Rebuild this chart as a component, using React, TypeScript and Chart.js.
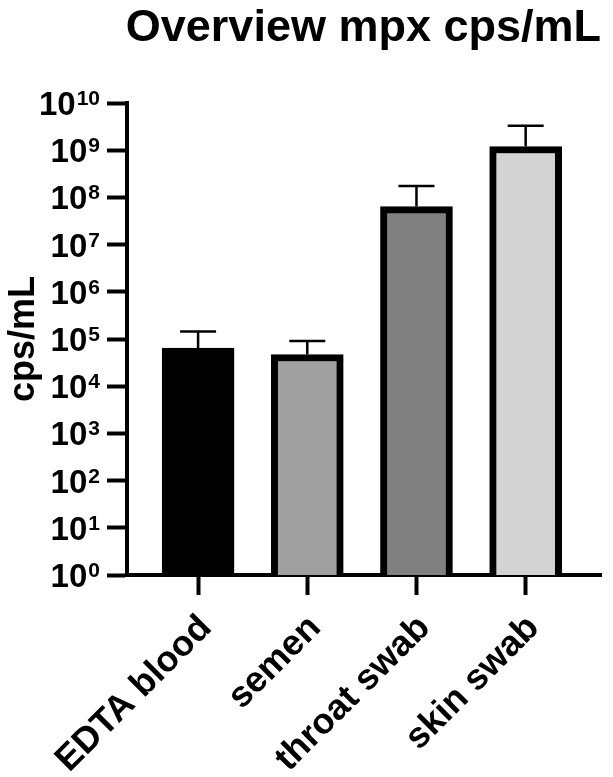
import React, { useEffect, useRef } from 'react';
import { Chart, registerables } from 'chart.js';

Chart.register(...registerables);

const categories = ['EDTA blood', 'semen', 'throat swab', 'skin swab'];
const meanValues = [6.4e4, 4.7e4, 6.4e7, 1.2e9];
const upperErrorValues = [1.45e5, 9.1e4, 1.75e8, 3.3e9];
const barColors = ['#000000', '#a0a0a0', '#808080', '#d3d3d3'];
const yTickExponents = [0, 1, 2, 3, 4, 5, 6, 7, 8, 9, 10];
const titleText = 'Overview mpx cps/mL';
const yAxisTitle = 'cps/mL';

const FONT = "'Liberation Sans', Arial, Helvetica, sans-serif";

const errorBarPlugin = {
  id: 'errorBars',
  afterDatasetsDraw(chart: any) {
    const meta = chart.getDatasetMeta(0);
    const yScale = chart.scales.y;
    const ctx = chart.ctx;
    ctx.save();
    ctx.strokeStyle = '#000';
    ctx.lineWidth = 2.5;
    meta.data.forEach((bar: any, i: number) => {
      const x = bar.x;
      const top = bar.y;
      const capY = yScale.getPixelForValue(upperErrorValues[i]);
      ctx.beginPath();
      ctx.moveTo(x, top);
      ctx.lineTo(x, capY);
      ctx.moveTo(x - 18, capY);
      ctx.lineTo(x + 18, capY);
      ctx.stroke();
    });
    ctx.restore();
  },
};

const powerLabelPlugin = {
  id: 'powerLabels',
  afterDraw(chart: any) {
    const yScale = chart.scales.y;
    const ctx = chart.ctx;
    const right = yScale.right - 27;
    ctx.save();
    ctx.fillStyle = '#000';
    ctx.textAlign = 'right';
    ctx.textBaseline = 'alphabetic';
    yScale.ticks.forEach((t: any) => {
      const py = yScale.getPixelForValue(t.value);
      const exp = String(Math.round(Math.log10(t.value)));
      ctx.font = `bold 21px ${FONT}`;
      const ew = ctx.measureText(exp).width;
      ctx.fillText(exp, right, py + 2);
      ctx.font = `bold 33px ${FONT}`;
      ctx.fillText('10', right - ew - 1, py + 12);
    });
    ctx.restore();
  },
};

export default function App() {
  const canvasRef = useRef<HTMLCanvasElement | null>(null);

  useEffect(() => {
    if (!canvasRef.current) return;
    const chart = new Chart(canvasRef.current, {
      type: 'bar',
      data: {
        datasets: [
          {
            data: meanValues.map((v, i) => ({ x: i, y: v })),
            backgroundColor: barColors,
            borderColor: '#000',
            borderWidth: 7,
            barThickness: 72,
          } as any,
        ],
      },
      options: {
        animation: false,
        responsive: true,
        maintainAspectRatio: false,
        layout: { padding: { left: 0, right: 12, top: 0, bottom: 0 } },
        plugins: {
          legend: { display: false },
          tooltip: { enabled: false },
          title: {
            display: true,
            text: titleText,
            align: 'end',
            color: '#000',
            font: { family: FONT, size: 45, weight: 'bold' },
            padding: { top: 2, bottom: 47 },
          },
        },
        scales: {
          x: {
            type: 'linear',
            min: -0.651,
            max: 3.69,
            offset: false,
            afterBuildTicks: (scale: any) => {
              scale.ticks = categories.map((_, i) => ({ value: i }));
            },
            afterFit: (scale: any) => {
              scale.height = 202;
            },
            grid: {
              offset: false,
              drawOnChartArea: false,
              drawTicks: true,
              tickLength: 20,
              tickWidth: 4,
              tickColor: '#000',
            },
            border: { display: true, width: 4, color: '#000' },
            ticks: {
              autoSkip: false,
              maxRotation: 45,
              minRotation: 45,
              padding: 12,
              labelOffset: 8,
              color: '#000',
              font: { family: FONT, size: 36, weight: 'bold' },
              callback: (v: any) => categories[v as number] ?? '',
            },
          } as any,
          y: {
            type: 'logarithmic',
            min: 1,
            max: 1e10,
            afterBuildTicks: (scale: any) => {
              scale.ticks = yTickExponents.map((e) => ({ value: Math.pow(10, e) }));
            },
            afterFit: (scale: any) => {
              scale.width = 127;
            },
            grid: {
              drawOnChartArea: false,
              drawTicks: true,
              tickLength: 20,
              tickWidth: 4,
              tickColor: '#000',
            },
            border: { display: true, width: 4, color: '#000' },
            ticks: { display: false },
            title: {
              display: true,
              text: yAxisTitle,
              color: '#000',
              font: { family: FONT, size: 36, weight: 'bold' },
              padding: { top: 2, bottom: 0 },
            },
          } as any,
        },
      },
      plugins: [errorBarPlugin, powerLabelPlugin],
    });
    return () => chart.destroy();
  }, []);

  return (
    <div style={{ position: 'fixed', left: 0, top: 0, width: 613, height: 777, background: '#fff' }}>
      <canvas ref={canvasRef} />
    </div>
  );
}
